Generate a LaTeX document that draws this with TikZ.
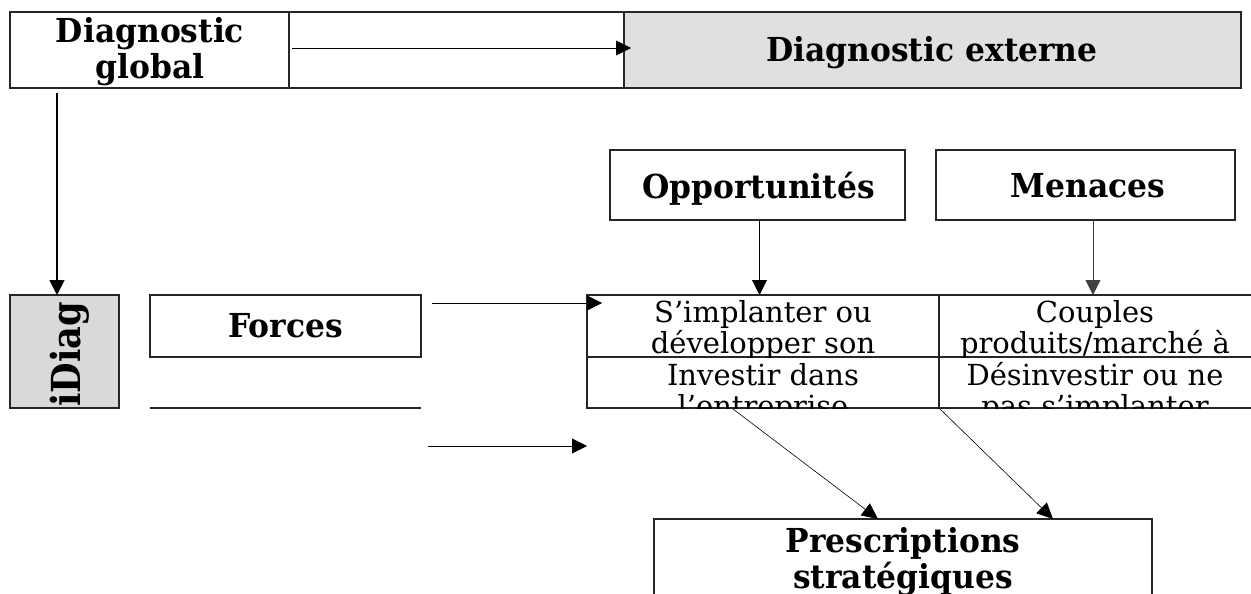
\documentclass[tikz,border=0pt]{standalone}
\usepackage{fontspec}
\setmainfont{DejaVu Serif}
\newfontfamily\hdfont[FakeStretch=0.95]{DejaVu Serif}
\usetikzlibrary{arrows.meta}
\begin{document}
\begin{tikzpicture}[x=1pt,y=-1pt,
  box/.style={draw=black!85, line width=1.4pt, inner sep=0pt, outer sep=0pt, rectangle},
  hd/.style={font=\hdfont\fontsize{33}{36}\selectfont\bfseries, align=center, inner sep=0pt},
  celltext/.style={font=\fontsize{29}{31}\selectfont, align=center, inner sep=0pt},
  arr/.style={-{Triangle[length=15pt,width=15pt]}, line width=0.9pt},
  thickarr/.style={-{Triangle[length=15pt,width=15pt]}, line width=1.8pt},
  thinarr/.style={-{Triangle[length=16pt,width=15pt]}, line width=0.6pt},
]
\clip (0,0) rectangle (1251,594);
\fill[white] (0,0) rectangle (1251,594);

% top row
\node[box, minimum width=279pt, minimum height=76pt] (glob) at (149.5,50) {};
\node[box, minimum width=335pt, minimum height=76pt] (mid) at (456.5,50) {};
\node[box, fill=black!12, minimum width=617pt, minimum height=76pt] (ext) at (932.5,50) {};
\node[hd] (globt) at (150,51.5) {Diagnostic\\global};
\node[hd] (extt) at (932,52.7) {Diagnostic externe};

% iDiag box
\node[box, fill=black!15, minimum width=109pt, minimum height=113pt] (idg) at (64.5,351.5) {};
\begin{scope}
  \clip (idg.south west) rectangle (idg.north east);
  \node[font=\fontsize{40}{44}\selectfont\bfseries, rotate=90, anchor=base west, inner sep=0pt] (idgt) at (80,407) {\scalebox{0.88}[1]{iDiag}};
\end{scope}

% Forces
\node[box, minimum width=271pt, minimum height=62pt] (forces) at (285.5,326) {};
\node[hd] (forcest) at (285.5,325.5) {Forces};
\coordinate (fl1) at (150,408);
\coordinate (fl2) at (421,408);
\draw[line width=1.4pt, draw=black!85] (fl1) -- (fl2);

% Opportunites / Menaces
\node[box, minimum width=295pt, minimum height=70pt] (opp) at (757.5,185) {};
\node[hd] (oppt) at (758.5,188.7) {Opportunités};
\node[box, minimum width=299pt, minimum height=70pt] (men) at (1085.5,185) {};
\node[hd] (ment) at (1088,185.5) {Menaces};

% grid cells
\node[box, minimum width=352pt, minimum height=62pt] (c11) at (763,326) {};
\node[box, minimum width=331pt, minimum height=62pt] (c12) at (1104.5,326) {};
\node[box, minimum width=352pt, minimum height=51pt] (c21) at (763,382.5) {};
\node[box, minimum width=331pt, minimum height=51pt] (c22) at (1104.5,382.5) {};
\begin{scope}
  \clip (c11.south west) rectangle (c11.north east);
  \node[celltext] (c11t) at (763,330.4) {S’implanter ou\\développer son};
\end{scope}
\begin{scope}
  \clip (c12.south west) rectangle (c12.north east);
  \node[celltext] (c12t) at (1095,330.4) {Couples\\produits/marché à};
\end{scope}
\begin{scope}
  \clip (c21.south west) rectangle (c21.north east);
  \node[celltext] (c21t) at (763,392.9) {Investir dans\\l’entreprise};
\end{scope}
\begin{scope}
  \clip (c22.south west) rectangle (c22.north east);
  \node[celltext] (c22t) at (1095,392.9) {Désinvestir ou ne\\pas s’implanter};
\end{scope}

% Prescriptions
\node[box, minimum width=498pt, minimum height=101pt] (presc) at (903,569.5) {};
\node[hd] (presct) at (903,561.6) {Prescriptions\\stratégiques};

% connectors
\coordinate (a1s) at (292,48);
\coordinate (a1e) at (631,48);
\draw[arr] (a1s) -- (a1e);
\coordinate (v1) at (57,93);
\draw[thickarr] (v1) -- (v1 |- idg.north);
\coordinate (f1) at (432,303);
\coordinate (f2) at (602,303);
\draw[arr] (f1) -- (f2);
\coordinate (g1) at (428,446);
\coordinate (g2) at (587,446);
\draw[arr] (g1) -- (g2);
\coordinate (ox) at (759.5,0);
\coordinate (mx) at (1093,0);
\draw[arr] (opp.south -| ox) -- (c11.north -| ox);
\draw[arr, draw=black!75] (men.south -| mx) -- (c12.north -| mx);
\coordinate (d1s) at (733,409);
\coordinate (d1e) at (878,519);
\coordinate (d2s) at (940,409);
\coordinate (d2e) at (1053,519);
\draw[thinarr] (d1s) -- (d1e |- presc.north);
\draw[thinarr] (d2s) -- (d2e |- presc.north);
\end{tikzpicture}
\end{document}
